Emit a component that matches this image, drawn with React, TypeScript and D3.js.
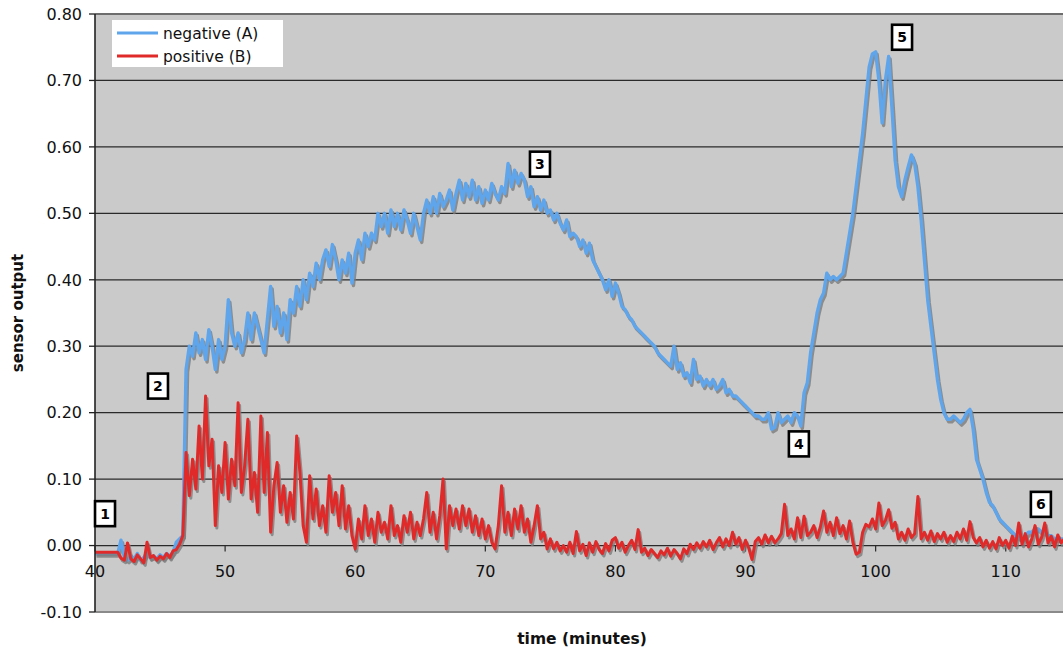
import React from "react";
import * as d3 from "d3";

// Sampling grid: readings every quarter minute starting at 40 min
const timeStart = 40;
const timeStep = 0.25;

// Sensor output, negative sample (A)
const negativeA: number[] = [
  -0.012, -0.012, -0.012, -0.012, // 40
  -0.012, -0.012, -0.012, -0.012, // 41
  0.008, -0.018, -0.022, -0.015, // 42
  -0.02, -0.012, -0.022, -0.018, // 43
  -0.01, -0.018, -0.016, -0.02, // 44
  -0.014, -0.018, -0.012, -0.016, // 45
  -0.01, 0.005, 0.01, 0.015, // 46
  0.265, 0.3, 0.285, 0.32, // 47
  0.29, 0.31, 0.28, 0.325, // 48
  0.3, 0.265, 0.31, 0.28, // 49
  0.3, 0.37, 0.32, 0.3, // 50
  0.32, 0.29, 0.31, 0.35, // 51
  0.31, 0.35, 0.33, 0.31, // 52
  0.29, 0.34, 0.39, 0.33, // 53
  0.36, 0.32, 0.35, 0.31, // 54
  0.37, 0.35, 0.39, 0.36, // 55
  0.4, 0.37, 0.41, 0.39, // 56
  0.425, 0.4, 0.43, 0.445, // 57
  0.42, 0.453, 0.43, 0.4, // 58
  0.43, 0.41, 0.44, 0.395, // 59
  0.44, 0.46, 0.43, 0.47, // 60
  0.45, 0.47, 0.46, 0.5, // 61
  0.48, 0.5, 0.47, 0.505, // 62
  0.48, 0.5, 0.475, 0.505, // 63
  0.49, 0.47, 0.5, 0.48, // 64
  0.46, 0.5, 0.52, 0.5, // 65
  0.525, 0.5, 0.53, 0.51, // 66
  0.52, 0.535, 0.505, 0.53, // 67
  0.55, 0.52, 0.545, 0.525, // 68
  0.55, 0.52, 0.54, 0.515, // 69
  0.535, 0.52, 0.545, 0.53, // 70
  0.52, 0.54, 0.53, 0.575, // 71
  0.54, 0.565, 0.545, 0.56, // 72
  0.55, 0.525, 0.54, 0.51, // 73
  0.525, 0.505, 0.52, 0.5, // 74
  0.505, 0.49, 0.5, 0.485, // 75
  0.475, 0.49, 0.465, 0.47, // 76
  0.465, 0.45, 0.46, 0.44, // 77
  0.455, 0.43, 0.42, 0.41, // 78
  0.4, 0.385, 0.4, 0.375, // 79
  0.395, 0.38, 0.36, 0.355, // 80
  0.345, 0.34, 0.33, 0.325, // 81
  0.32, 0.315, 0.31, 0.305, // 82
  0.3, 0.29, 0.285, 0.28, // 83
  0.275, 0.27, 0.3, 0.265, // 84
  0.275, 0.255, 0.26, 0.245, // 85
  0.28, 0.25, 0.255, 0.24, // 86
  0.25, 0.24, 0.25, 0.235, // 87
  0.24, 0.25, 0.23, 0.235, // 88
  0.225, 0.225, 0.22, 0.215, // 89
  0.21, 0.205, 0.2, 0.195, // 90
  0.195, 0.19, 0.19, 0.2, // 91
  0.175, 0.178, 0.2, 0.185, // 92
  0.19, 0.195, 0.185, 0.2, // 93
  0.195, 0.18, 0.23, 0.245, // 94
  0.29, 0.32, 0.35, 0.37, // 95
  0.38, 0.41, 0.4, 0.405, // 96
  0.4, 0.405, 0.41, 0.44, // 97
  0.47, 0.5, 0.54, 0.58, // 98
  0.62, 0.67, 0.72, 0.74, // 99
  0.743, 0.7, 0.636, 0.7, // 100
  0.736, 0.66, 0.58, 0.54, // 101
  0.525, 0.55, 0.57, 0.588, // 102
  0.575, 0.54, 0.49, 0.43, // 103
  0.37, 0.33, 0.29, 0.25, // 104
  0.22, 0.2, 0.19, 0.19, // 105
  0.195, 0.19, 0.185, 0.19, // 106
  0.2, 0.205, 0.175, 0.13, // 107
  0.115, 0.1, 0.08, 0.065, // 108
  0.06, 0.05, 0.04, 0.035, // 109
  0.03, 0.025, 0.02, 0.015, // 110
  0.012, 0.01, 0.015, 0.02, // 111
  0.02, 0.025, 0.025, 0.02, // 112
  0.02, 0.015, 0.015, 0.01, // 113
  0.01, 0.01, 0.01, // 114
];

// Sensor output, positive sample (B)
const positiveB: number[] = [
  -0.01, -0.01, -0.01, -0.01, // 40
  -0.01, -0.01, -0.01, -0.01, // 41
  -0.019, -0.022, 0.004, -0.02, // 42
  -0.024, -0.014, -0.02, -0.026, // 43
  0.005, -0.018, -0.015, -0.022, // 44
  -0.016, -0.02, -0.012, -0.018, // 45
  -0.008, -0.006, 0.002, 0.015, // 46
  0.14, 0.075, 0.13, 0.085, // 47
  0.18, 0.1, 0.225, 0.12, // 48
  0.16, 0.03, 0.12, 0.08, // 49
  0.155, 0.07, 0.13, 0.09, // 50
  0.215, 0.08, 0.12, 0.19, // 51
  0.07, 0.11, 0.05, 0.195, // 52
  0.08, 0.17, 0.02, 0.09, // 53
  0.125, 0.05, 0.09, 0.035, // 54
  0.08, 0.04, 0.165, 0.11, // 55
  0.03, 0.005, 0.105, 0.04, // 56
  0.085, 0.03, 0.06, 0.02, // 57
  0.105, 0.05, 0.08, 0.03, // 58
  0.09, 0.025, 0.06, 0.015, // 59
  -0.005, 0.04, 0.01, 0.06, // 60
  0.015, 0.04, 0.005, 0.05, // 61
  0.02, 0.035, 0.01, 0.06, // 62
  0.015, 0.03, 0.005, 0.045, // 63
  0.02, 0.05, 0.01, 0.035, // 64
  0.015, 0.04, 0.08, 0.02, // 65
  0.05, 0.01, 0.045, 0.1, // 66
  -0.005, 0.06, 0.03, 0.055, // 67
  0.025, 0.06, 0.03, 0.055, // 68
  0.02, 0.045, 0.015, 0.04, // 69
  0.01, 0.03, 0.005, -0.005, // 70
  0.03, 0.09, 0.02, 0.05, // 71
  0.015, 0.055, 0.025, 0.06, // 72
  0.02, 0.04, 0.005, 0.03, // 73
  0.06, 0.01, 0.02, -0.005, // 74
  0.01, -0.005, 0.005, -0.008, // 75
  0.0, -0.01, 0.005, -0.012, // 76
  0.021, -0.008, 0.002, -0.015, // 77
  0.004, -0.01, 0.006, -0.006, // 78
  -0.012, 0.003, -0.008, 0.008, // 79
  0.012, -0.004, 0.005, -0.01, // 80
  0.0, 0.008, -0.006, 0.024, // 81
  -0.01, -0.004, -0.015, -0.006, // 82
  -0.012, -0.018, -0.008, -0.014, // 83
  -0.004, -0.016, -0.006, -0.012, // 84
  -0.02, -0.005, -0.012, 0.002, // 85
  -0.006, 0.004, -0.004, 0.006, // 86
  -0.002, 0.008, -0.006, 0.004, // 87
  0.012, -0.002, 0.01, 0.0, // 88
  0.02, 0.002, 0.012, -0.006, // 89
  0.008, -0.004, -0.021, 0.006, // 90
  0.012, 0.002, 0.016, 0.004, // 91
  0.014, 0.004, 0.01, 0.018, // 92
  0.062, 0.015, 0.025, 0.01, // 93
  0.042, 0.012, 0.044, 0.015, // 94
  0.02, 0.03, 0.012, 0.028, // 95
  0.052, 0.02, 0.035, 0.015, // 96
  0.042, 0.018, 0.03, 0.01, // 97
  0.037, 0.005, -0.013, -0.01, // 98
  0.02, 0.032, 0.028, 0.04, // 99
  0.025, 0.064, 0.03, 0.038, // 100
  0.054, 0.026, 0.035, 0.01, // 101
  0.02, 0.008, 0.025, 0.012, // 102
  0.018, 0.074, 0.01, 0.02, // 103
  0.008, 0.022, 0.006, 0.018, // 104
  0.01, 0.02, 0.005, 0.015, // 105
  0.006, 0.02, 0.01, 0.025, // 106
  0.008, 0.036, 0.012, 0.004, // 107
  0.012, -0.002, 0.008, -0.004, // 108
  0.006, -0.005, 0.012, 0.0, // 109
  0.008, -0.004, 0.014, 0.0, // 110
  0.034, 0.002, 0.018, -0.002, // 111
  0.01, 0.03, 0.002, 0.012, // 112
  0.034, 0.004, 0.014, -0.002, // 113
  0.016, 0.004, 0.01, // 114
];

const yTicks = [-0.1, 0.0, 0.1, 0.2, 0.3, 0.4, 0.5, 0.6, 0.7, 0.8];
const xTicks = [40, 50, 60, 70, 80, 90, 100, 110];

const seriesNames = ["negative (A)", "positive (B)"];

// Numbered event markers, placed at (time, sensor output)
const markerLabels = ["1", "2", "3", "4", "5", "6"];
const markerTimes = [40.77, 44.84, 74.2, 94.1, 102.03, 112.7];
const markerValues = [0.048, 0.24, 0.574, 0.153, 0.765, 0.062];

const W = 1063;
const H = 651;
const plot = { left: 95, right: 1063, top: 14, bottom: 612 };

const BLUE = "#5ea5ec";
const RED = "#e02a2a";
const SHADOW = "#7c7c7c";
const FONT = "'DejaVu Sans', Verdana, sans-serif";

export default function App() {
  const x = d3.scaleLinear().domain([40, 114.4]).range([plot.left, plot.right]);
  const y = d3.scaleLinear().domain([-0.1, 0.8]).range([plot.bottom, plot.top]);

  const toPoints = (vals: number[]) =>
    vals.map((v, i) => [timeStart + i * timeStep, v] as [number, number]);

  const line = d3
    .line<[number, number]>()
    .x((d) => x(d[0]))
    .y((d) => y(d[1]));

  const aPath = line(toPoints(negativeA)) || "";
  const bPath = line(toPoints(positiveB)) || "";

  // plain hyphen for negatives, two decimals
  const fmt = (v: number) => v.toFixed(2);

  return (
    <svg
      width={W}
      height={H}
      style={{ position: "absolute", left: 0, top: 0, background: "#fff" }}
      fontFamily={FONT}
    >
      <defs>
        <clipPath id="plotClip">
          <rect
            x={plot.left}
            y={plot.top}
            width={plot.right - plot.left}
            height={plot.bottom - plot.top}
          />
        </clipPath>
      </defs>

      {/* plot background */}
      <rect
        x={plot.left}
        y={plot.top}
        width={plot.right - plot.left}
        height={plot.bottom - plot.top}
        fill="#cacaca"
      />

      {/* horizontal gridlines */}
      {yTicks
        .filter((t) => t > -0.1 && t < 0.8)
        .map((t) => (
          <line
            key={"g" + t}
            x1={plot.left}
            x2={plot.right}
            y1={y(t)}
            y2={y(t)}
            stroke="#2a2a2a"
            strokeWidth={1.3}
          />
        ))}
      <line x1={plot.left} x2={plot.right} y1={y(0.8)} y2={y(0.8)} stroke="#6d6d6d" strokeWidth={2} />
      <line x1={plot.left} x2={plot.right} y1={y(-0.1)} y2={y(-0.1)} stroke="#8a8a8a" strokeWidth={2} />

      {/* x ticks on the zero line */}
      {xTicks.map((t) => (
        <line key={"xt" + t} x1={x(t)} x2={x(t)} y1={y(0)} y2={y(0) + 6} stroke="#2a2a2a" strokeWidth={1.2} />
      ))}

      {/* series */}
      <g clipPath="url(#plotClip)" fill="none" strokeLinejoin="round">
        <path d={aPath} stroke={SHADOW} strokeWidth={3.4} transform="translate(1.5,2.5)" opacity={0.8} />
        <path d={aPath} stroke={BLUE} strokeWidth={3.4} />
        <path d={bPath} stroke={SHADOW} strokeWidth={3} transform="translate(1.5,2.5)" opacity={0.8} />
        <path d={bPath} stroke={RED} strokeWidth={3} />
      </g>

      {/* y axis */}
      <line x1={plot.left} x2={plot.left} y1={plot.top} y2={plot.bottom} stroke="#222" strokeWidth={1.6} />
      {yTicks.map((t) => (
        <g key={"yt" + t}>
          <line x1={plot.left - 6} x2={plot.left} y1={y(t)} y2={y(t)} stroke="#222" strokeWidth={1.3} />
          <text x={plot.left - 13} y={y(t)} dy="0.36em" textAnchor="end" fontSize={16} fill="#111">
            {fmt(t)}
          </text>
        </g>
      ))}

      {/* x tick labels */}
      {xTicks.map((t) => (
        <text key={"xl" + t} x={x(t)} y={577} textAnchor="middle" fontSize={16} fill="#111">
          {t}
        </text>
      ))}

      {/* axis titles */}
      <text x={582} y={644} textAnchor="middle" fontSize={15.5} fontWeight="bold" fill="#111">
        time (minutes)
      </text>
      <text
        transform={`translate(23, ${y(0.35)}) rotate(-90)`}
        textAnchor="middle"
        fontSize={15}
        fontWeight="bold"
        fill="#111"
      >
        sensor output
      </text>

      {/* legend */}
      <rect x={112} y={20} width={171} height={47} fill="#fff" />
      {seriesNames.map((name, i) => (
        <g key={name} transform={`translate(0, ${33 + i * 23})`}>
          <line x1={117} x2={158} y1={0} y2={0} stroke={i === 0 ? BLUE : RED} strokeWidth={3} />
          <text x={163} y={0} dy="0.36em" fontSize={15.5} fill="#111">
            {name}
          </text>
        </g>
      ))}

      {/* numbered markers */}
      {markerLabels.map((lab, i) => {
        const cx = x(markerTimes[i]);
        const cy = y(markerValues[i]);
        return (
          <g key={"m" + lab}>
            <rect x={cx - 10} y={cy - 12.5} width={20} height={25} fill="#fff" stroke="#000" strokeWidth={2.6} />
            <text x={cx} y={cy} dy="0.36em" textAnchor="middle" fontSize={14} fontWeight="bold" fill="#000">
              {lab}
            </text>
          </g>
        );
      })}
    </svg>
  );
}
